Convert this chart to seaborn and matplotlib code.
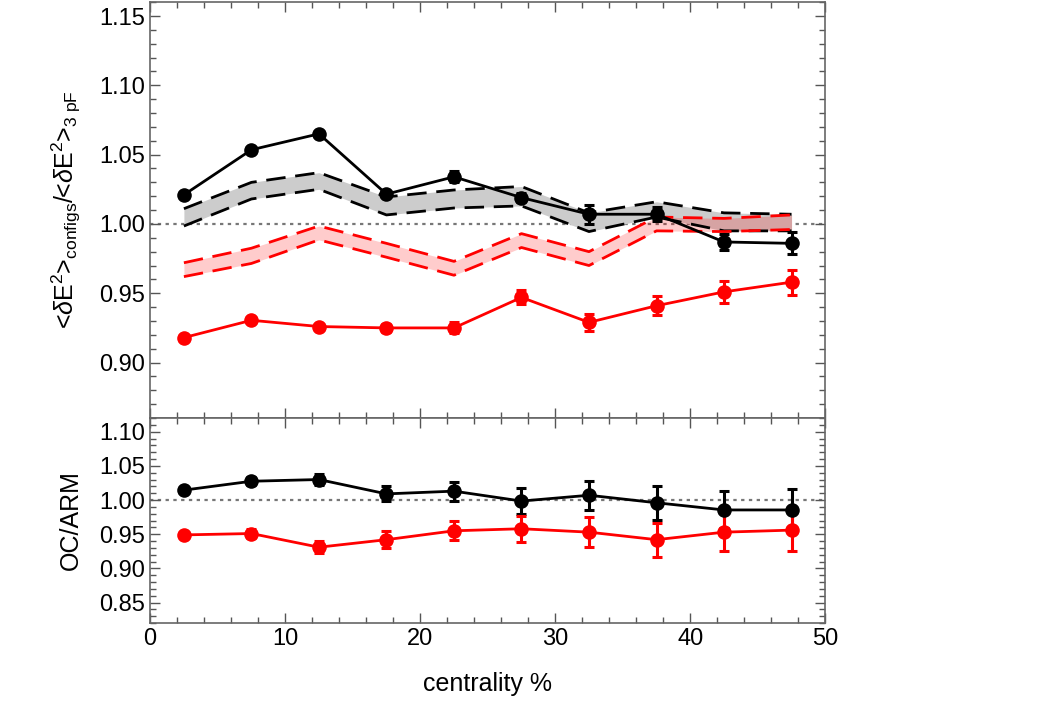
import numpy as np
import pandas as pd
import seaborn as sns
import matplotlib.pyplot as plt
from matplotlib.ticker import MultipleLocator

centrality = [2.5, 7.5, 12.5, 17.5, 22.5, 27.5, 32.5, 37.5, 42.5, 47.5]

# top panel: ratio to 3pF
black_top = [1.021, 1.0535, 1.065, 1.0215, 1.034, 1.019, 1.007, 1.007, 0.987, 0.986]
black_top_err = [0.002, 0.002, 0.002, 0.002, 0.004, 0.003, 0.007, 0.005, 0.006, 0.008]
red_top = [0.918, 0.9305, 0.926, 0.925, 0.925, 0.947, 0.929, 0.941, 0.951, 0.958]
red_top_err = [0.002, 0.002, 0.002, 0.003, 0.004, 0.005, 0.006, 0.007, 0.008, 0.009]

black_band_hi = [1.011, 1.030, 1.037, 1.0195, 1.0245, 1.027, 1.008, 1.016, 1.008, 1.007]
black_band_lo = [0.9985, 1.018, 1.025, 1.0065, 1.0115, 1.013, 0.9945, 1.005, 0.995, 0.995]
red_band_hi = [0.972, 0.9825, 0.9985, 0.986, 0.973, 0.993, 0.980, 1.005, 1.004, 1.0065]
red_band_lo = [0.962, 0.9715, 0.9885, 0.976, 0.963, 0.983, 0.970, 0.995, 0.9945, 0.996]

# bottom panel: OC/ARM
black_bot = [1.0145, 1.0275, 1.030, 1.009, 1.013, 0.9985, 1.007, 0.996, 0.9855, 0.9855]
black_bot_err = [0.004, 0.006, 0.008, 0.011, 0.014, 0.019, 0.021, 0.025, 0.027, 0.031]
red_bot = [0.949, 0.951, 0.931, 0.942, 0.955, 0.958, 0.953, 0.942, 0.953, 0.956]
red_bot_err = [0.004, 0.006, 0.009, 0.012, 0.014, 0.019, 0.022, 0.025, 0.028, 0.031]

df = pd.DataFrame({'c': centrality,
                   'bt': black_top, 'rt': red_top,
                   'bhi': black_band_hi, 'blo': black_band_lo,
                   'rhi': red_band_hi, 'rlo': red_band_lo,
                   'bb': black_bot, 'rb': red_bot})

sns.set_style('ticks')
plt.rcParams['font.family'] = ['Liberation Sans', 'DejaVu Sans']
plt.rcParams['mathtext.fontset'] = 'custom'
plt.rcParams['mathtext.rm'] = 'Liberation Sans'
plt.rcParams['mathtext.it'] = 'Liberation Sans:italic'
plt.rcParams['text.color'] = 'black'
plt.rcParams['axes.labelcolor'] = 'black'
plt.rcParams['xtick.labelcolor'] = 'black'
plt.rcParams['ytick.labelcolor'] = 'black'

fig = plt.figure(figsize=(10.5, 7.17), dpi=100)
ax1 = fig.add_axes([0.143, 0.417, 0.643, 0.580])
ax2 = fig.add_axes([0.143, 0.131, 0.643, 0.286])

dash = (7, 3.5)
lw = 2

# bands
ax1.fill_between(df['c'], df['blo'], df['bhi'], color='#cccccc', lw=0, zorder=1)
ax1.fill_between(df['c'], df['rlo'], df['rhi'], color='red', alpha=0.2, lw=0, zorder=2)
for col, colr in [('bhi', 'black'), ('blo', 'black'), ('rhi', 'red'), ('rlo', 'red')]:
    sns.lineplot(data=df, x='c', y=col, ax=ax1, color=colr, lw=lw,
                 dashes=False, zorder=3).lines[-1].set_dashes(dash)

for ax, cols, errs in [(ax1, [('bt', 'black'), ('rt', 'red')], [black_top_err, red_top_err]),
                       (ax2, [('bb', 'black'), ('rb', 'red')], [black_bot_err, red_bot_err])]:
    for (col, colr), err in zip(cols, errs):
        sns.lineplot(data=df, x='c', y=col, ax=ax, color=colr, lw=lw,
                     marker='o', markersize=10.5, markeredgewidth=0, zorder=5)
        ax.errorbar(df['c'], df[col], yerr=err, fmt='none', ecolor=colr,
                    elinewidth=2.2, capsize=3.5, capthick=2.2, zorder=4)
    ax.axhline(1.0, color='#777777', ls=(0, (1.5, 2)), lw=1.6, zorder=0)

ax1.set_ylim(0.86, 1.16)
ax2.set_ylim(0.82, 1.12)
for ax in (ax1, ax2):
    ax.set_xlim(0, 50)
    ax.xaxis.set_major_locator(MultipleLocator(10))
    ax.xaxis.set_minor_locator(MultipleLocator(2))
    ax.yaxis.set_major_locator(MultipleLocator(0.05))
    ax.yaxis.set_minor_locator(MultipleLocator(0.01))
    ax.tick_params(which='both', direction='in', top=True, right=True,
                   color='#555555', labelsize=17)
    ax.tick_params(which='major', length=7, width=1)
    ax.tick_params(which='minor', length=4, width=1)
    for s in ax.spines.values():
        s.set_color('#666666')
        s.set_linewidth(1.2)
    ax.set_xlabel('')

ax1.yaxis.set_major_formatter(plt.FormatStrFormatter('%.2f'))
ax2.yaxis.set_major_formatter(plt.FormatStrFormatter('%.2f'))
ax1.tick_params(labelbottom=False)
ax1.set_yticks([0.90, 0.95, 1.00, 1.05, 1.10, 1.15])
ax2.set_yticks([0.85, 0.90, 0.95, 1.00, 1.05, 1.10])

ax1.set_ylabel(r'<$\delta$E$^2$>$_{\mathrm{configs}}$/<$\delta$E$^2$>$_{\mathrm{3\ pF}}$', fontsize=18)
ax2.set_ylabel('OC/ARM', fontsize=18)
ax2.set_xlabel('centrality %', fontsize=18, labelpad=16)
ax1.yaxis.set_label_coords(-0.10, 0.5)
ax2.yaxis.set_label_coords(-0.10, 0.5)

plt.savefig('out.png', dpi=100)
